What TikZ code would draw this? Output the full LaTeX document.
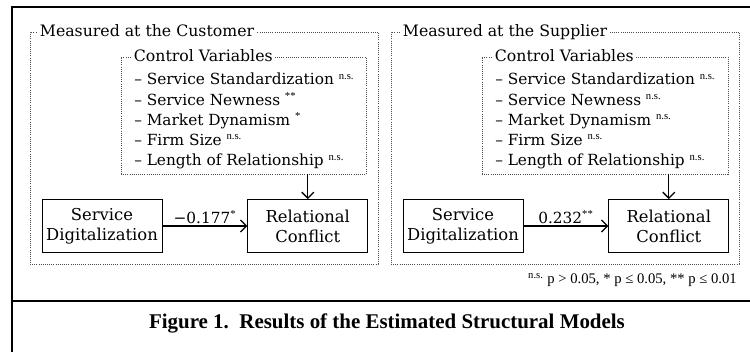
\documentclass[tikz,border=0pt]{standalone}
\usepackage{fontspec}
\setmainfont{DejaVu Serif}
\newfontfamily\timesfont{Liberation Serif}
\usetikzlibrary{positioning,arrows.meta}
\newcommand{\sig}[1]{\textsuperscript{\timesfont\fontsize{8}{8}\selectfont #1}}
\tikzset{
  frame/.style={line width=2.2pt},
  panel/.style={draw=black!70, densely dotted, line width=0.6pt, inner sep=0pt},
  paneltitle/.style={fill=white, inner xsep=2pt, inner ysep=1pt, anchor=base west, font=\fontsize{11.8}{13}\selectfont},
  items/.style={anchor=north west, align=left, inner sep=0pt, font=\fontsize{11.5}{15.2}\selectfont},
  varbox/.style={draw, line width=0.6pt, minimum width=90pt, minimum height=39.75pt, align=center, inner sep=1pt, font=\fontsize{12.3}{15}\selectfont},
  effect/.style={line width=1pt, -{Straight Barb[length=4.5pt,width=9pt]}},
  coef/.style={above, inner sep=1.5pt, font=\fontsize{11.5}{13}\selectfont},
}
\begin{document}
\begin{tikzpicture}[x=0.75pt, y=-0.75pt]
    \useasboundingbox (0,0) rectangle (750,352);
    \draw[frame] (750,7) -- (12,7) -- (12,352);
    \draw[frame] (12,301) -- (750,301);

    \node[panel, minimum width=261pt, minimum height=174pt] (custpanel) at (204,148) {};
    \node[paneltitle] (custtitle) at (37,37) {Measured at the Customer};
    \node[panel, minimum width=183.75pt, minimum height=87.75pt] (custctrl) at (243.5,115.5) {};
    \node[paneltitle] (custctrltitle) at (131,62) {Control Variables};
    \node[items] (custitems) at (134,73) {%
      – Service Standardization \sig{n.s.}\\
      – Service Newness \sig{**}\\
      – Market Dynamism \sig{*}\\
      – Firm Size \sig{n.s.}\\
      – Length of Relationship \sig{n.s.}};
    \node[varbox] (custsd) at (102,226) {Service\\Digitalization};
    \node[varbox, right=63.75pt of custsd] (custrc) {Relational\\Conflict};

    \node[panel, minimum width=261pt, minimum height=174pt] (supppanel) at (565,148) {};
    \node[paneltitle] (supptitle) at (400,37) {Measured at the Supplier};
    \node[panel, minimum width=184.5pt, minimum height=87.75pt] (suppctrl) at (605,115.5) {};
    \node[paneltitle] (suppctrltitle) at (492,62) {Control Variables};
    \node[items] (suppitems) at (495,73) {%
      – Service Standardization \sig{n.s.}\\
      – Service Newness \sig{n.s.}\\
      – Market Dynamism \sig{n.s.}\\
      – Firm Size \sig{n.s.}\\
      – Length of Relationship \sig{n.s.}};
    \node[varbox] (suppsd) at (463,226) {Service\\Digitalization};
    \node[varbox, right=63.75pt of suppsd] (supprc) {Relational\\Conflict};

    \draw[effect] (custsd) -- node[coef] {−0.177\sig{*}} (custrc);
    \draw[effect] (custctrl.south -| custrc.north) -- (custrc.north);
    \draw[effect] (suppsd) -- node[coef] {0.232\sig{**}} (supprc);
    \draw[effect] (suppctrl.south -| supprc.north) -- (supprc.north);

    \node[anchor=base east, inner sep=0pt, font=\timesfont\fontsize{11}{13}\selectfont] (legend) at (737,284)
      {\sig{n.s.} p > 0.05, * p ≤ 0.05, ** p ≤ 0.01};
    \node[font=\timesfont\bfseries\fontsize{15.7}{18}\selectfont] (caption) at (387,323)
      {Figure 1.\ \ Results of the Estimated Structural Models};
\end{tikzpicture}
\end{document}
